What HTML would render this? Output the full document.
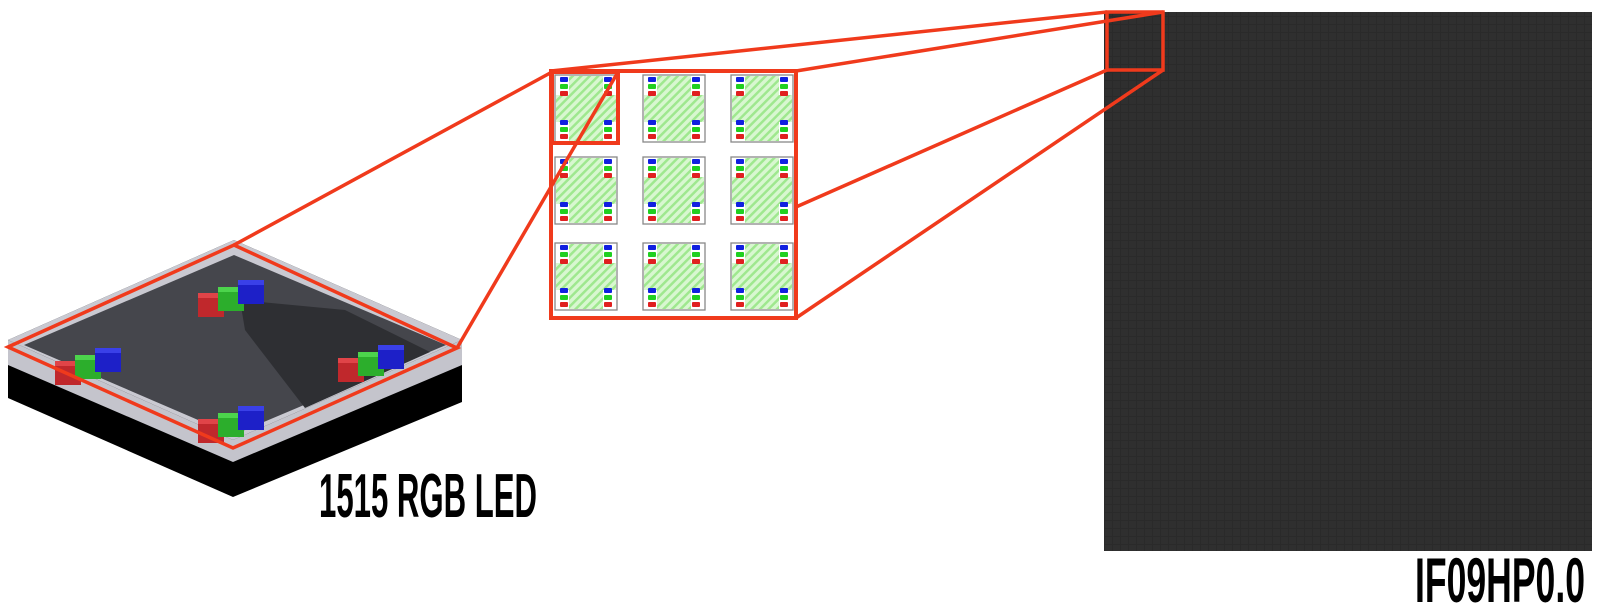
<!DOCTYPE html>
<html><head><meta charset="utf-8"><style>
html,body{margin:0;padding:0;background:#fff;width:1600px;height:605px;overflow:hidden}
</style></head><body>
<svg width="1600" height="605" viewBox="0 0 1600 605" xmlns="http://www.w3.org/2000/svg">
<defs>
<pattern id="h" width="6" height="6" patternUnits="userSpaceOnUse" patternTransform="rotate(45)">
<rect width="6" height="6" fill="#d8f7d0"/><rect width="2.5" height="6" fill="#9fe88f"/>
</pattern>
<pattern id="px" width="8" height="8" patternUnits="userSpaceOnUse">
<rect width="8" height="8" fill="#2d2d2d"/><rect width="8" height="1" fill="#262626"/><rect width="1" height="8" fill="#262626"/>
</pattern>
<g id="rgb">
<rect x="0" y="0" width="8" height="5" rx="1" fill="#1020e0"/>
<rect x="0" y="7" width="8" height="5" rx="1" fill="#20d020"/>
<rect x="0" y="14" width="8" height="5" rx="1" fill="#e02020"/>
</g>
<g id="cell">
<rect x="0" y="0" width="62" height="67" fill="#fff" stroke="#888" stroke-width="1.3"/>
<rect x="14" y="1" width="34" height="65" fill="url(#h)"/>
<rect x="1" y="20" width="60" height="27" fill="url(#h)"/>
<use href="#rgb" x="5" y="2"/><use href="#rgb" x="49" y="2"/>
<use href="#rgb" x="5" y="45"/><use href="#rgb" x="49" y="45"/>
</g>
<g id="chip">
<rect x="0" y="6" width="26" height="24" fill="#c0282c"/><rect x="0" y="6" width="26" height="5" fill="#e04448"/>
<rect x="20" y="0" width="26" height="24" fill="#2cae2c"/><rect x="20" y="0" width="26" height="5" fill="#4cd44c"/>
<rect x="40" y="-7" width="26" height="24" fill="#1d20c8"/><rect x="40" y="-7" width="26" height="5" fill="#3a40e8"/>
</g>
</defs>

<!-- LED -->
<polygon points="8,340 234,240 462,340 462,402 233,497 8,398" fill="#000"/>
<polygon points="8,340 233,440 233,462 8,365" fill="#c4c4cc"/>
<polygon points="233,440 462,340 462,365 233,462" fill="#c4c4cc"/>
<polygon points="8,340 234,240 462,340 233,440" fill="#c9c9d1"/>
<polygon points="24,345 234,255 446,345 233,435" fill="#45464c"/>
<polygon points="240,300 345,310 430,352 305,408 245,330" fill="#2e2f33"/>
<use href="#chip" x="198" y="287"/>
<use href="#chip" x="55" y="355"/>
<use href="#chip" x="338" y="352"/>
<use href="#chip" x="198" y="413"/>
<polygon points="8,347 234,245 457,348 233,448" fill="none" stroke="#f03a1c" stroke-width="3.5"/>

<!-- grid -->
<rect x="551" y="71" width="245" height="247" fill="#fff"/>
<use href="#cell" x="555" y="75"/><use href="#cell" x="643" y="75"/><use href="#cell" x="731" y="75"/>
<use href="#cell" x="555" y="157"/><use href="#cell" x="643" y="157"/><use href="#cell" x="731" y="157"/>
<use href="#cell" x="555" y="243"/><use href="#cell" x="643" y="243"/><use href="#cell" x="731" y="243"/>
<rect x="551" y="71" width="245" height="247" fill="none" stroke="#f03a1c" stroke-width="4"/>
<rect x="552" y="72" width="66" height="71" fill="none" stroke="#f03a1c" stroke-width="4"/>

<!-- panel -->
<rect x="1104" y="12" width="488" height="539" fill="url(#px)"/>
<rect x="1104" y="12" width="488" height="539" fill="#333" opacity="0.35"/>
<rect x="1107" y="12" width="56" height="58" fill="none" stroke="#f03a1c" stroke-width="3.5"/>

<!-- connector lines -->
<g stroke="#f03a1c" stroke-width="3.5" fill="none">
<line x1="234" y1="245" x2="552" y2="72"/>
<line x1="457" y1="348" x2="618" y2="72"/>
<line x1="551" y1="71" x2="1107" y2="12"/>
<line x1="796" y1="71" x2="1163" y2="12"/>
<line x1="796" y1="207" x2="1107" y2="70"/>
<line x1="796" y1="318" x2="1163" y2="70"/>
</g>

<text x="319" y="517" font-family="'Liberation Sans Narrow','Liberation Sans',sans-serif" font-weight="bold" font-size="62" textLength="218" lengthAdjust="spacingAndGlyphs" fill="#000">1515 RGB LED</text>
<text x="1415" y="602" font-family="'Liberation Sans Narrow','Liberation Sans',sans-serif" font-weight="bold" font-size="63" textLength="170" lengthAdjust="spacingAndGlyphs" fill="#000">IF09HP0.0</text>
</svg>
</body></html>
